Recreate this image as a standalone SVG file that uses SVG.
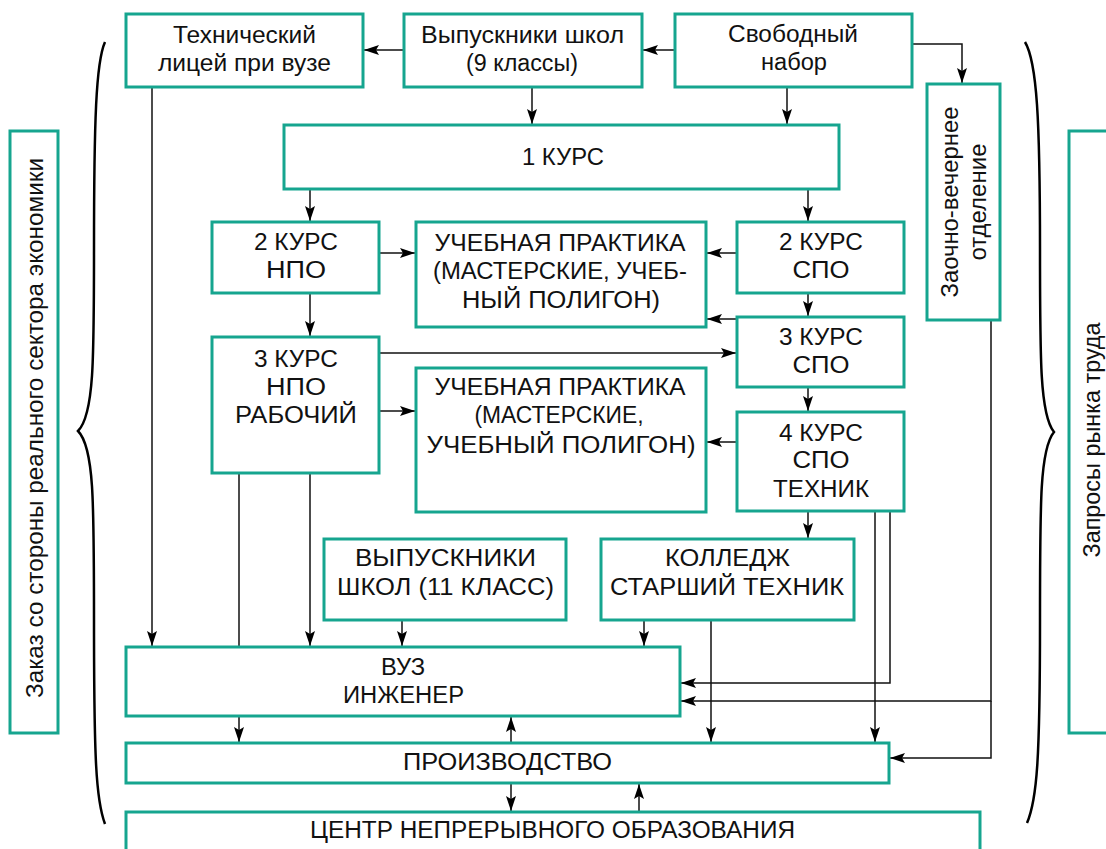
<svg xmlns="http://www.w3.org/2000/svg" width="1106" height="849" viewBox="0 0 1106 849">
<style>
.box{fill:#fff;stroke:#16a58f;stroke-width:3}
.t{font-family:"Liberation Sans",Arial,sans-serif;font-size:23px;fill:#111;text-anchor:middle}
.s{font-family:"Liberation Sans",Arial,sans-serif;font-size:23px;fill:#111;text-anchor:middle}
.c{fill:none;stroke:#111;stroke-width:1.5}
.br{fill:none;stroke:#000;stroke-width:2.5}
</style>
<defs>
<marker id="a" markerUnits="userSpaceOnUse" markerWidth="15" markerHeight="10" viewBox="0 0 15 10" refX="15" refY="5" orient="auto">
<path d="M0,0 L15,5 L0,10 L3,5 z" fill="#000"/>
</marker>
</defs>
<g id="connectors">
<path class="c" d="M404,50 H364" marker-end="url(#a)"/>
<path class="c" d="M675,50 H643" marker-end="url(#a)"/>
<path class="c" d="M912,44 H962 V83" marker-end="url(#a)"/>
<path class="c" d="M532,87 V124" marker-end="url(#a)"/>
<path class="c" d="M787,87 V124" marker-end="url(#a)"/>
<path class="c" d="M310,189 V221" marker-end="url(#a)"/>
<path class="c" d="M808,189 V221" marker-end="url(#a)"/>
<path class="c" d="M379,253 H415" marker-end="url(#a)"/>
<path class="c" d="M737,253 H707" marker-end="url(#a)"/>
<path class="c" d="M737,319 H707" marker-end="url(#a)"/>
<path class="c" d="M808,293 V316" marker-end="url(#a)"/>
<path class="c" d="M310,293 V336" marker-end="url(#a)"/>
<path class="c" d="M379,353 H736" marker-end="url(#a)"/>
<path class="c" d="M379,411 H415" marker-end="url(#a)"/>
<path class="c" d="M808,387 V411" marker-end="url(#a)"/>
<path class="c" d="M737,442 H707" marker-end="url(#a)"/>
<path class="c" d="M808,511 V538" marker-end="url(#a)"/>
<path class="c" d="M152,87 V646" marker-end="url(#a)"/>
<path class="c" d="M239,473 V742" marker-end="url(#a)"/>
<path class="c" d="M310,473 V646" marker-end="url(#a)"/>
<path class="c" d="M402,620 V646" marker-end="url(#a)"/>
<path class="c" d="M644,620 V646" marker-end="url(#a)"/>
<path class="c" d="M711,620 V742" marker-end="url(#a)"/>
<path class="c" d="M875,511 V742" marker-end="url(#a)"/>
<path class="c" d="M890,511 V683 H681" marker-end="url(#a)"/>
<path class="c" d="M991,320 V701 H681" marker-end="url(#a)"/>
<path class="c" d="M991,701 V758 H890" marker-end="url(#a)"/>
<path class="c" d="M511,743 V717" marker-end="url(#a)"/>
<path class="c" d="M511,783 V811" marker-end="url(#a)"/>
<path class="c" d="M639,812 V784" marker-end="url(#a)"/>
<path class="br" d="M105,42 C96,62 94,120 94,250 C94,360 94,415 78,431 C94,447 94,500 94,620 C94,760 96,800 105,824"/>
<path class="br" d="M1025,42 C1037,62 1040,120 1040,250 C1040,360 1040,415 1054,432 C1040,449 1040,500 1040,620 C1040,760 1037,800 1027,823"/>
</g>
<g id="n-licey"><rect class="box" x="126" y="14" width="237" height="73"/><text class="t" x="244.5" y="43" textLength="143" lengthAdjust="spacingAndGlyphs">Технический</text><text class="t" x="244.5" y="71" textLength="173" lengthAdjust="spacingAndGlyphs">лицей при вузе</text></g>
<g id="n-vyp9"><rect class="box" x="404" y="14" width="238" height="73"/><text class="t" x="522.5" y="43" textLength="203" lengthAdjust="spacingAndGlyphs">Выпускники школ</text><text class="t" x="522" y="71" textLength="112" lengthAdjust="spacingAndGlyphs">(9 классы)</text></g>
<g id="n-svob"><rect class="box" x="675" y="14" width="237" height="73"/><text class="t" x="793" y="42" textLength="130" lengthAdjust="spacingAndGlyphs">Свободный</text><text class="t" x="794" y="70" textLength="66" lengthAdjust="spacingAndGlyphs">набор</text></g>
<g id="n-kurs1"><rect class="box" x="284" y="125" width="555" height="64"/><text class="t" x="563" y="165" textLength="82" lengthAdjust="spacingAndGlyphs">1 КУРС</text></g>
<g id="n-zaoch"><rect class="box" x="927" y="84" width="73" height="236"/><text class="t" transform="translate(958,202) rotate(-90)" textLength="191" lengthAdjust="spacingAndGlyphs">Заочно-вечернее</text><text class="t" transform="translate(986,202) rotate(-90)" textLength="117" lengthAdjust="spacingAndGlyphs">отделение</text></g>
<g id="n-npo2"><rect class="box" x="212" y="222" width="167" height="71"/><text class="t" x="296" y="250" textLength="84" lengthAdjust="spacingAndGlyphs">2 КУРС</text><text class="t" x="296" y="278" textLength="60" lengthAdjust="spacingAndGlyphs">НПО</text></g>
<g id="n-prak1"><rect class="box" x="416" y="222" width="290" height="105"/><text class="t" x="560" y="251" textLength="251" lengthAdjust="spacingAndGlyphs">УЧЕБНАЯ ПРАКТИКА</text><text class="t" x="560" y="279" textLength="254" lengthAdjust="spacingAndGlyphs">(МАСТЕРСКИЕ, УЧЕБ-</text><text class="t" x="561" y="308" textLength="198" lengthAdjust="spacingAndGlyphs">НЫЙ ПОЛИГОН)</text></g>
<g id="n-spo2"><rect class="box" x="737" y="222" width="167" height="71"/><text class="t" x="821" y="250" textLength="84" lengthAdjust="spacingAndGlyphs">2 КУРС</text><text class="t" x="821" y="278" textLength="57" lengthAdjust="spacingAndGlyphs">СПО</text></g>
<g id="n-spo3"><rect class="box" x="737" y="317" width="167" height="70"/><text class="t" x="821" y="345" textLength="84" lengthAdjust="spacingAndGlyphs">3 КУРС</text><text class="t" x="821" y="373" textLength="57" lengthAdjust="spacingAndGlyphs">СПО</text></g>
<g id="n-npo3"><rect class="box" x="212" y="337" width="167" height="136"/><text class="t" x="296" y="367" textLength="84" lengthAdjust="spacingAndGlyphs">3 КУРС</text><text class="t" x="296" y="395" textLength="60" lengthAdjust="spacingAndGlyphs">НПО</text><text class="t" x="296" y="423" textLength="122" lengthAdjust="spacingAndGlyphs">РАБОЧИЙ</text></g>
<g id="n-prak2"><rect class="box" x="416" y="368" width="290" height="144"/><text class="t" x="560" y="395" textLength="251" lengthAdjust="spacingAndGlyphs">УЧЕБНАЯ ПРАКТИКА</text><text class="t" x="559" y="423" textLength="169" lengthAdjust="spacingAndGlyphs">(МАСТЕРСКИЕ,</text><text class="t" x="561" y="453" textLength="269" lengthAdjust="spacingAndGlyphs">УЧЕБНЫЙ ПОЛИГОН)</text></g>
<g id="n-spo4"><rect class="box" x="737" y="412" width="167" height="99"/><text class="t" x="821" y="441" textLength="84" lengthAdjust="spacingAndGlyphs">4 КУРС</text><text class="t" x="821" y="468" textLength="57" lengthAdjust="spacingAndGlyphs">СПО</text><text class="t" x="821" y="497" textLength="96" lengthAdjust="spacingAndGlyphs">ТЕХНИК</text></g>
<g id="n-vyp11"><rect class="box" x="324" y="539" width="242" height="81"/><text class="t" x="445.5" y="566" textLength="181" lengthAdjust="spacingAndGlyphs">ВЫПУСКНИКИ</text><text class="t" x="445.5" y="595" textLength="217" lengthAdjust="spacingAndGlyphs">ШКОЛ (11 КЛАСС)</text></g>
<g id="n-college"><rect class="box" x="601" y="539" width="253" height="81"/><text class="t" x="727.5" y="566" textLength="125" lengthAdjust="spacingAndGlyphs">КОЛЛЕДЖ</text><text class="t" x="727" y="595" textLength="234" lengthAdjust="spacingAndGlyphs">СТАРШИЙ ТЕХНИК</text></g>
<g id="n-vuz"><rect class="box" x="126" y="647" width="554" height="69"/><text class="t" x="403" y="675" textLength="44" lengthAdjust="spacingAndGlyphs">ВУЗ</text><text class="t" x="403.5" y="703" textLength="121" lengthAdjust="spacingAndGlyphs">ИНЖЕНЕР</text></g>
<g id="n-proizv"><rect class="box" x="126" y="743" width="763" height="40"/><text class="t" x="507.5" y="770" textLength="209" lengthAdjust="spacingAndGlyphs">ПРОИЗВОДСТВО</text></g>
<g id="n-centr"><rect class="box" x="126" y="812" width="854" height="50"/><text class="t" x="552.5" y="838" textLength="485" lengthAdjust="spacingAndGlyphs">ЦЕНТР НЕПРЕРЫВНОГО ОБРАЗОВАНИЯ</text></g>
<g id="n-zakaz"><rect class="box" x="10" y="131" width="48" height="602"/><text class="s" transform="translate(43,428) rotate(-90)" textLength="540" lengthAdjust="spacingAndGlyphs">Заказ со стороны реального сектора экономики</text></g>
<g id="n-zapros"><rect class="box" x="1069" y="131" width="60" height="602"/><text class="s" transform="translate(1100,440) rotate(-90)" textLength="235" lengthAdjust="spacingAndGlyphs">Запросы рынка труда</text></g>
</svg>
